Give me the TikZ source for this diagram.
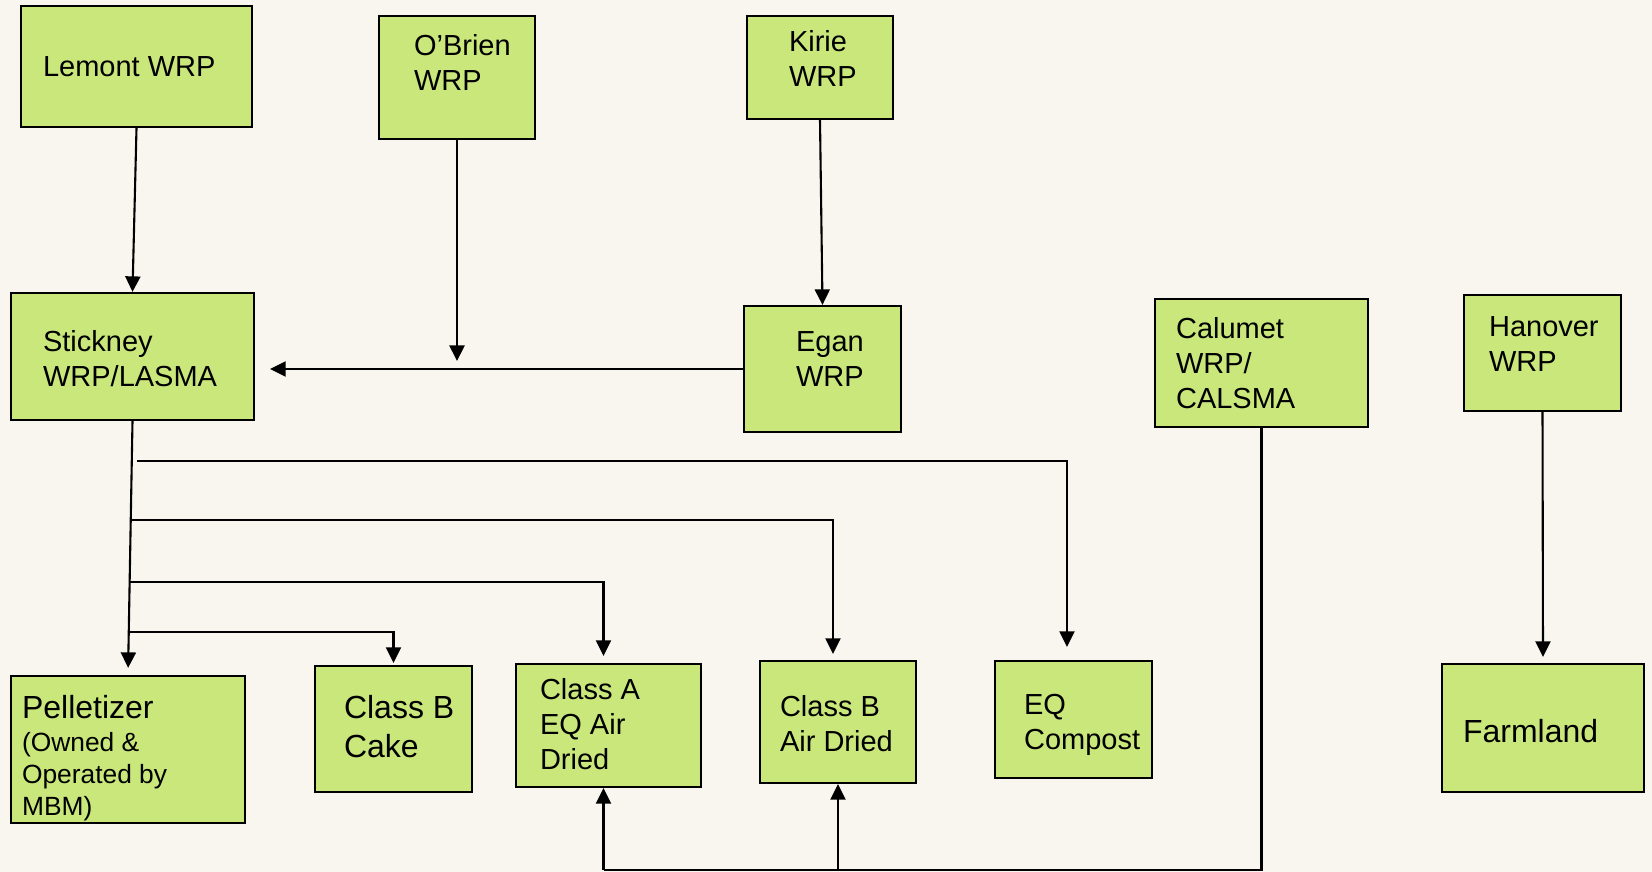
\documentclass[tikz,border=0pt]{standalone}
\usepackage{fontspec}
\setmainfont{Liberation Sans}
\usetikzlibrary{positioning, arrows.meta}
\definecolor{paper}{HTML}{F8F6EE}
\definecolor{boxgreen}{HTML}{CAE77B}

\begin{document}
\begin{tikzpicture}[x=0.2mm, y=-0.2mm, line width=0.42mm, >={Triangle[length=3.1mm, width=3mm]},
                box/.style={draw, fill=boxgreen, inner sep=0, line width=0.45mm},
                txt/.style={anchor=north west, inner sep=0, align=left, font=\fontsize{16.5}{19.9}\selectfont},
                bigtxt/.style={txt, font=\fontsize{18.2}{22.2}\selectfont}]
                \fill[paper] (0,0) rectangle (1652,872);
                \useasboundingbox (0,0) rectangle (1652,872);

                \node[box, minimum width=46.2mm, minimum height=24.2mm] (Lemont WRP) at (136.5,66.5) {};
                \node[box, minimum width=31.2mm, minimum height=24.6mm] (OBrien WRP) at (457,77.5) {};
                \node[box, minimum width=29.2mm, minimum height=20.6mm] (Kirie WRP) at (820,67.5) {};
                \node[box, minimum width=48.6mm, minimum height=25.4mm] (Stickney WRP) at (132.5,356.5) {};
                \node[box, minimum width=31.4mm, minimum height=25.2mm] (Egan WRP) at (822.5,369) {};
                \node[box, minimum width=42.6mm, minimum height=25.6mm] (Calumet WRP) at (1261.5,363) {};
                \node[box, minimum width=31.4mm, minimum height=23.2mm] (Hanover WRP) at (1542.5,353) {};
                \node[box, minimum width=46.8mm, minimum height=29.4mm] (Pelletizer) at (128,749.5) {};
                \node[box, minimum width=31.4mm, minimum height=25.2mm] (Class B Cake) at (393.5,729) {};
                \node[box, minimum width=37mm, minimum height=24.6mm] (Class A) at (608.5,725.5) {};
                \node[box, minimum width=31.2mm, minimum height=24.4mm] (Class B Air Dried) at (838,722) {};
                \node[box, minimum width=31.4mm, minimum height=23.4mm] (EQ Compost) at (1073.5,719.5) {};
                \node[box, minimum width=40.4mm, minimum height=25.6mm] (Farmland) at (1543,728) {};

                \node[txt] (Lemont text) at (42,56) {Lemont WRP};
                \node[txt] (OBrien text) at (413,33) {O’Brien\\WRP};
                \node[txt] (Kirie text) at (788,29) {Kirie\\WRP};
                \node[txt] (Stickney text) at (42,329) {Stickney\\WRP/LASMA};
                \node[txt] (Egan text) at (795,331) {Egan\\WRP};
                \node[txt] (Calumet text) at (1175,316) {Calumet\\WRP/\\CALSMA};
                \node[txt] (Hanover text) at (1488,316) {Hanover\\WRP};
                \node[txt, font=\fontsize{15}{18.2}\selectfont] (Pelletizer text) at (21,694) {{\fontsize{18.2}{22.2}\selectfont Pelletizer}\\[0.3mm](Owned \&\\Operated by\\MBM)};
                \node[bigtxt] (Cake text) at (343,694) {Class B\\Cake};
                \node[txt] (Class A text) at (539,677) {Class A\\EQ Air\\Dried};
                \node[txt] (Air Dried text) at (779,694) {Class B\\Air Dried};
                \node[txt] (Compost text) at (1023,693) {EQ\\Compost};
                \node[bigtxt] (Farmland text) at (1462,718) {Farmland};

                \coordinate (to Compost) at (137,461);
                \coordinate (to Air Dried) at (131,520);
                \coordinate (to Class A) at (130,582);
                \coordinate (to Cake) at (129,632);
                \coordinate (bus) at (1264,870);

                \draw[->] (Lemont WRP.south) -- (Stickney WRP.north);
                \draw[->, shorten >=1.6mm] (OBrien WRP.south) -- (OBrien WRP.south |- Egan WRP.west);
                \draw[->, shorten >=3mm] (Egan WRP.west) -- (Egan WRP.west -| Stickney WRP.east);
                \draw[->] (Kirie WRP.south) -- (Egan WRP.north);
                \draw[->, shorten >=1.4mm] (Stickney WRP.south) -- (Pelletizer.north);

                \draw[->, shorten >=2.6mm] (to Compost) -| ([xshift=-1.3mm]EQ Compost.north);
                \draw[->, shorten >=1.2mm] (to Air Dried) -| ([xshift=-1mm]Class B Air Dried.north);
                \draw[->, shorten >=1.4mm] (to Class A) -| ([xshift=-1mm]Class A.north);
                \draw[->, shorten >=0.4mm] (to Cake) -| (Class B Cake.north);

                \draw (Calumet WRP.south) -- (Calumet WRP.south |- bus) -- ([xshift=-1mm]Class A.south |- bus);
                \draw[->] ([xshift=-1mm]Class A.south |- bus) -- ([xshift=-1mm]Class A.south);
                \draw[->] (Class B Air Dried.south |- bus) -- (Class B Air Dried.south);
                \draw[->, shorten >=1.2mm] (Hanover WRP.south) -- (Farmland.north);

            \end{tikzpicture}
\end{document}
